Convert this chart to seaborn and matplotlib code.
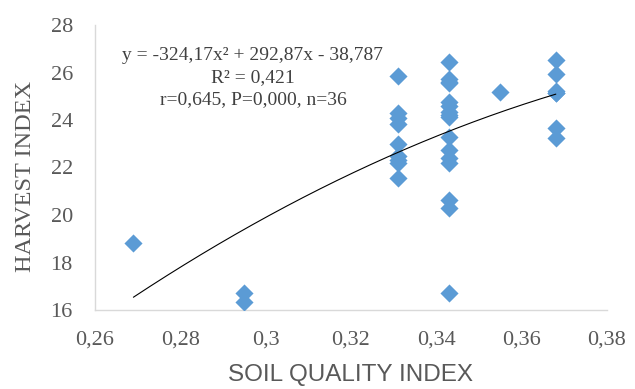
import numpy as np
import pandas as pd
import matplotlib
matplotlib.use("Agg")
import matplotlib.pyplot as plt
import seaborn as sns

# Data
soil_quality = [0.269,
                0.295, 0.295,
                0.331, 0.331, 0.331, 0.331, 0.331, 0.331, 0.331, 0.331, 0.331,
                0.343, 0.343, 0.343, 0.343, 0.343, 0.343, 0.343, 0.343, 0.343,
                0.343, 0.343, 0.343, 0.343, 0.343, 0.343, 0.343,
                0.355,
                0.368, 0.368, 0.368, 0.368, 0.368, 0.368, 0.368]
harvest_index = [18.83,
                 16.70, 16.35,
                 25.85, 24.30, 24.08, 23.83, 23.00, 22.48, 22.20, 21.56, 22.30,
                 26.45, 25.71, 25.55, 24.77, 24.35, 24.14, 23.30, 22.74, 22.20,
                 20.63, 20.28, 16.73, 24.20, 25.60, 22.40, 24.60,
                 25.17,
                 26.53, 25.92, 25.24, 25.12, 23.65, 23.23, 25.15]

# Trendline coefficients printed in the chart
coef_a, coef_b, coef_c = -324.17, 292.87, -38.787
x_ticks = [0.26, 0.28, 0.30, 0.32, 0.34, 0.36, 0.38]
x_tick_labels = ["0,26", "0,28", "0,3", "0,32", "0,34", "0,36", "0,38"]
y_ticks = [16, 18, 20, 22, 24, 26, 28]
annotation_lines = ["y = -324,17x² + 292,87x - 38,787",
                    "R² = 0,421",
                    "r=0,645, P=0,000, n=36"]

df = pd.DataFrame({"SQI": soil_quality, "HI": harvest_index})

sns.set_theme(style="white")
plt.rcParams["font.family"] = ["Liberation Serif", "DejaVu Serif"]

fig = plt.figure(figsize=(6.35, 3.89), dpi=100)
ax = fig.add_axes([95/635, 1-310/389, (607-95)/635, (310-25)/389])

sns.scatterplot(data=df, x="SQI", y="HI", marker="D", s=85, color="#5B9BD5",
                linewidth=0, ax=ax, zorder=3)

xs = np.linspace(min(soil_quality), max(soil_quality), 200)
ax.plot(xs, coef_a*xs**2 + coef_b*xs + coef_c, color="black", lw=0.8, zorder=4)

ax.set_xlim(0.26, 0.38)
ax.set_ylim(16, 28)
ax.set_xticks(x_ticks)
ax.set_xticklabels(x_tick_labels)
ax.set_yticks(y_ticks)
ax.set_yticklabels([str(v) for v in y_ticks])
ax.tick_params(axis="both", length=0, labelsize=16, labelcolor="#595959")
ax.tick_params(axis="x", pad=15)
ax.tick_params(axis="y", pad=16)

for s in ["top", "right"]:
    ax.spines[s].set_visible(False)
for s in ["left", "bottom"]:
    ax.spines[s].set_color("#d9d9d9")
    ax.spines[s].set_linewidth(1)

ax.set_xlabel("SOIL QUALITY INDEX", fontsize=17.5, color="#595959",
              family=["Liberation Sans", "DejaVu Sans"])
ax.xaxis.set_label_coords((350-95)/512, (310-375)/285)
ax.xaxis.label.set_va("center")
ax.set_ylabel("HARVEST INDEX", fontsize=17.5, color="#595959")
ax.yaxis.set_label_coords((25-95)/512, (310-176)/285)
ax.yaxis.label.set_va("center")

for i, line in enumerate(annotation_lines):
    fig.text(253/635, 1-(56+22*i)/389, line, ha="center", va="center",
             fontsize=14, color="#404040")

fig.savefig("out.png", dpi=100)
